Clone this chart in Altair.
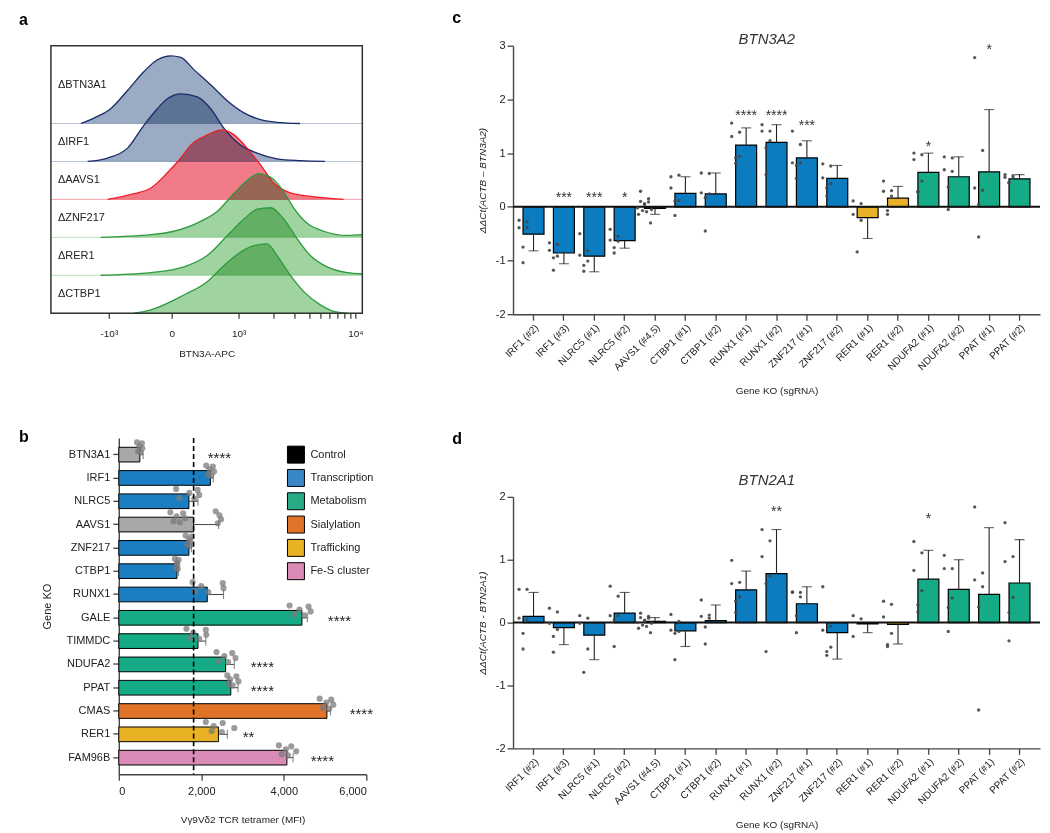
import altair as alt
import pandas as pd

FONT = "Liberation Sans"
INK = "#222222"

# ---------------- Panel a : flow histograms ----------------
HIST_SAMPLES = ["ΔBTN3A1", "ΔIRF1", "ΔAAVS1", "ΔZNF217", "ΔRER1", "ΔCTBP1"]
HIST_BASELINE = [5, 4, 3, 2, 1, 0]
A_YMAX = 7.05
A_XDOMAIN = [0, 100]
HIST_FILL = ["#9aabc3", "#9aabc3", "#f27b89", "#9fd4a0", "#9fd4a0", "#9fd4a0"]
HIST_LINE = ["#1b2a6b", "#1b2a6b", "#ee1c25", "#2e9a3e", "#2e9a3e", "#2e9a3e"]
HIST_TAIL = ["#b8c4d6", "#b8c4d6", "#f6a3ab", "#b9dfb9", "#b9dfb9", "#b9dfb9"]

BTN3A1_X = [9.6, 14.0, 19.2, 24.6, 29.9, 34.2, 38.5, 41.7, 45.9, 51.3, 56.6, 62.0, 67.3, 72.6, 80.0]
BTN3A1_H = [0.0, 0.15, 0.39, 0.87, 1.37, 1.68, 1.78, 1.74, 1.42, 1.02, 0.60, 0.28, 0.10, 0.03, 0.0]
IRF1_X = [11.8, 18.2, 24.6, 29.9, 34.2, 37.4, 41.7, 47.0, 51.3, 55.6, 60.9, 66.2, 72.6, 80.1, 88.0]
IRF1_H = [0.0, 0.09, 0.35, 0.96, 1.39, 1.65, 1.78, 1.70, 1.39, 0.87, 0.43, 0.22, 0.07, 0.02, 0.0]
AAVS1_X = [18.2, 26.7, 32.1, 37.4, 41.7, 44.9, 50.2, 55.0, 58.8, 63.0, 67.3, 71.6, 76.9, 85.5, 94.0]
AAVS1_H = [0.0, 0.15, 0.30, 0.70, 1.09, 1.43, 1.70, 1.83, 1.70, 1.35, 0.91, 0.43, 0.17, 0.06, 0.0]
ZNF217_X = [16.0, 32.1, 39.5, 48.1, 53.4, 58.8, 63.0, 66.8, 70.5, 74.8, 78.0, 82.3, 87.6, 95.1, 100.0]
ZNF217_H = [0.0, 0.07, 0.16, 0.42, 0.68, 1.16, 1.50, 1.68, 1.59, 1.20, 0.77, 0.37, 0.16, 0.05, 0.07]
RER1_X = [16.0, 32.1, 42.7, 50.2, 56.6, 62.0, 66.2, 70.5, 74.8, 79.1, 83.3, 88.7, 95.1, 100.0]
RER1_H = [0.0, 0.07, 0.22, 0.52, 1.04, 1.48, 1.74, 1.78, 1.48, 0.96, 0.52, 0.22, 0.07, 0.04]
CTBP1_X = [26.7, 32.1, 42.7, 50.2, 55.6, 60.9, 65.2, 69.4, 72.6, 76.9, 81.2, 86.5, 90.8, 95.1]
CTBP1_H = [0.0, 0.09, 0.48, 0.83, 1.26, 1.61, 1.78, 1.83, 1.52, 1.00, 0.57, 0.22, 0.05, 0.0]
HIST_XS = [BTN3A1_X, IRF1_X, AAVS1_X, ZNF217_X, RER1_X, CTBP1_X]
HIST_HS = [BTN3A1_H, IRF1_H, AAVS1_H, ZNF217_H, RER1_H, CTBP1_H]

A_TICK_VALUES = [18.6, 38.8, 60.3, 97.8]
A_TICK_LABELS = ["-10³", "0", "10³", "10⁴"]
A_MINOR_TICKS = [71.6, 78.2, 82.9, 86.5, 89.5, 92.0, 94.2, 96.1]

# ---------------- Panel b : tetramer MFI ----------------
B_GENES = ["BTN3A1", "IRF1", "NLRC5", "AAVS1", "ZNF217", "CTBP1", "RUNX1",
           "GALE", "TIMMDC", "NDUFA2", "PPAT", "CMAS", "RER1", "FAM96B"]
B_CATEGORY = ["Control", "Transcription", "Transcription", "Control", "Transcription",
              "Transcription", "Transcription", "Metabolism", "Metabolism", "Metabolism",
              "Metabolism", "Sialylation", "Trafficking", "Fe-S cluster"]
B_MEAN = [510, 2220, 1700, 1814, 1700, 1410, 2145, 4440, 1920, 2590, 2715, 5045, 2415, 4075]
B_ERR = [590, 2290, 1920, 2420, 1760, 1450, 2540, 4570, 2110, 2800, 2890, 5130, 2630, 4225]
B_POINTS = [
    [440, 470, 500, 520, 560, 570],
    [2120, 2170, 2200, 2240, 2280, 2310],
    [1390, 1470, 1710, 1830, 1910, 1950],
    [1250, 1330, 1400, 1480, 1560, 1610, 2350, 2400, 2440, 2480],
    [1620, 1660, 1700, 1730, 1760, 1740],
    [1360, 1390, 1410, 1430, 1450, 1420],
    [1790, 1850, 2000, 2170, 2520, 2540],
    [4140, 4250, 4380, 4500, 4600, 4650],
    [1640, 1720, 1800, 1950, 2110, 2120],
    [2370, 2420, 2560, 2650, 2750, 2830],
    [2630, 2660, 2700, 2760, 2850, 2900],
    [4870, 4950, 5030, 5100, 5150, 5200],
    [2110, 2250, 2300, 2500, 2520, 2800],
    [3880, 3950, 4050, 4100, 4180, 4300],
]
B_STARS = ["****", "", "", "", "", "", "", "****", "", "****", "****", "****", "**", "****"]
B_STAR_X = [2440, 0, 0, 0, 0, 0, 0, 5350, 0, 3480, 3480, 5880, 3145, 4935]
B_REFERENCE = "AAVS1"
LEGEND_CATS = ["Control", "Transcription", "Metabolism", "Sialylation", "Trafficking", "Fe-S cluster"]
BAR_COLORS = ["#a8a8a8", "#1b7ec2", "#14ab86", "#df7327", "#e9b224", "#d98bb5"]
LEGEND_COLORS = ["#000000", "#3a87c8", "#2aab86", "#df7327", "#e9b224", "#d98bb5"]

# ---------------- Panels c, d : qPCR ----------------
CD_LABELS = ["IRF1 (#2)", "IRF1 (#3)", "NLRC5 (#1)", "NLRC5 (#2)", "AAVS1 (#4,5)",
             "CTBP1 (#1)", "CTBP1 (#2)", "RUNX1 (#1)", "RUNX1 (#2)", "ZNF217 (#1)",
             "ZNF217 (#2)", "RER1 (#1)", "RER1 (#2)", "NDUFA2 (#1)", "NDUFA2 (#2)",
             "PPAT (#1)", "PPAT (#2)"]
CD_GROUP = ["Transcription"] * 11 + ["Trafficking"] * 2 + ["Metabolism"] * 4
CD_COLORS = ["#0c7cc0", "#e9b02a", "#14ab86"]
CD_GROUPS = ["Transcription", "Trafficking", "Metabolism"]

C_MEAN = [-0.51, -0.86, -0.92, -0.63, -0.03, 0.25, 0.24, 1.15, 1.20, 0.91, 0.53,
          -0.20, 0.16, 0.64, 0.56, 0.65, 0.52]
C_ERR = [-0.82, -1.06, -1.21, -0.77, -0.14, 0.56, 0.63, 1.47, 1.53, 1.23, 0.77,
         -0.59, 0.38, 1.00, 0.93, 1.81, 0.60]
C_POINTS = [
    [-0.25, -0.28, -0.39, -0.39, -0.75, -1.04],
    [-0.67, -0.70, -0.81, -0.92, -0.95, -1.18],
    [-0.50, -0.82, -0.90, -1.01, -1.09, -1.20],
    [-0.42, -0.55, -0.62, -0.64, -0.76, -0.86],
    [0.29, 0.15, 0.10, 0.09, 0.06, 0.04, -0.02, -0.05, -0.07, -0.09, -0.14, -0.30],
    [0.56, 0.59, 0.35, 0.12, 0.11, -0.16],
    [0.63, 0.62, 0.26, 0.24, 0.17, -0.45],
    [1.56, 1.39, 1.31, 0.94, 0.91, 0.81],
    [1.53, 1.41, 1.41, 1.23, 1.10, 0.60],
    [1.41, 1.16, 0.82, 0.82, 0.77, 0.53],
    [0.80, 0.76, 0.54, 0.43, 0.35, 0.20],
    [0.11, 0.06, -0.14, -0.25, -0.84],
    [0.48, 0.30, 0.29, 0.20, -0.07, -0.14],
    [1.00, 0.97, 0.88, 0.48, 0.28, 0.28],
    [0.93, 0.91, 0.69, 0.66, 0.37, -0.05],
    [2.78, 1.05, 0.35, 0.31, 0.04, -0.56],
    [0.60, 0.58, 0.55, 0.54, 0.45, 0.45],
]
C_STARS = ["", "***", "***", "*", "", "", "", "****", "****", "***", "", "", "", "*", "", "*", ""]
C_STAR_Y = [0, 0.24, 0.24, 0.24, 0, 0, 0, 1.76, 1.76, 1.57, 0, 0, 0, 1.19, 0, 3.0, 0]

D_MEAN = [0.10, -0.08, -0.20, 0.15, 0.02, -0.13, 0.03, 0.52, 0.78, 0.30, -0.16,
          -0.02, -0.03, 0.69, 0.53, 0.45, 0.63]
D_ERR = [0.48, -0.35, -0.59, 0.48, 0.08, -0.38, 0.28, 0.82, 1.48, 0.57, -0.58,
         -0.16, -0.34, 1.15, 1.00, 1.51, 1.32]
D_POINTS = [
    [0.53, 0.53, 0.07, 0.05, -0.17, -0.42],
    [0.23, 0.17, -0.01, -0.11, -0.22, -0.47],
    [0.11, 0.07, -0.01, -0.42, -0.79],
    [0.58, 0.42, 0.11, 0.11, 0.04, -0.38],
    [0.15, 0.10, 0.08, 0.07, 0.04, 0.02, 0.0, -0.01, -0.04, -0.06, -0.09, -0.16],
    [0.13, 0.02, -0.12, -0.14, -0.17, -0.59],
    [0.36, 0.12, 0.10, 0.07, -0.07, -0.34],
    [0.99, 0.64, 0.62, 0.41, 0.34, 0.16],
    [1.48, 1.30, 1.05, 0.74, 0.62, -0.46],
    [0.49, 0.48, 0.48, 0.41, 0.11, -0.16],
    [0.57, -0.06, -0.12, -0.39, -0.46, -0.52],
    [0.11, 0.06, -0.22],
    [0.34, 0.29, 0.09, -0.17, -0.35, -0.38],
    [1.29, 1.11, 0.83, 0.51, 0.28, 0.17],
    [1.07, 0.86, 0.86, 0.39, 0.24, -0.14],
    [1.84, 0.79, 0.68, 0.57, 0.25, -1.39],
    [1.59, 1.05, 0.97, 0.40, 0.16, -0.29],
]
D_STARS = ["", "", "", "", "", "", "", "", "**", "", "", "", "", "*", "", "", ""]
D_STAR_Y = [0, 0, 0, 0, 0, 0, 0, 0, 1.83, 0, 0, 0, 0, 1.71, 0, 0, 0]

# jitter patterns (pixels) for the replicate dots
JIT_B = [-5, 4, -1, 5, -4, 1, -6, 6, -2, 2]
JIT_CD = [-4, 4, -4, 4, 0, 0, -7, 7, -2, 2, -6, 6]


def letter(ch, dx, dy):
    return alt.Chart(pd.DataFrame({"t": [ch]})).mark_text(
        align="left", baseline="alphabetic", fontSize=16, fontWeight="bold",
        font=FONT, color="black").encode(x=alt.value(dx), y=alt.value(dy), text="t:N")


def free_text(txt, dx, dy, size=15, style="italic"):
    return alt.Chart(pd.DataFrame({"t": [txt]})).mark_text(
        align="left", baseline="alphabetic", fontSize=size, fontStyle=style,
        font=FONT, color="#333333").encode(x=alt.value(dx), y=alt.value(dy), text="t:N")


# ===== Panel a =====
hist_rows = []
for s, xs, hs, base in zip(HIST_SAMPLES, HIST_XS, HIST_HS, HIST_BASELINE):
    for x, h in zip(xs, hs):
        hist_rows.append({"sample": s, "x": x, "base": base, "top": base + h})
hist_df = pd.DataFrame(hist_rows)
tops = [A_YMAX] + HIST_BASELINE[:-1]
lab_df = pd.DataFrame({"sample": HIST_SAMPLES, "base": HIST_BASELINE,
                       "mid": [(b + t) / 2 for b, t in zip(HIST_BASELINE, tops)],
                       "x0": A_XDOMAIN[0], "x1": A_XDOMAIN[1]})
frame_df = pd.DataFrame({"x0": [A_XDOMAIN[0]], "x1": [A_XDOMAIN[1]], "y0": [0], "y1": [A_YMAX]})

a_label_expr = ("{" + ",".join(f"'{v}':'{l}'" for v, l in zip(A_TICK_VALUES, A_TICK_LABELS))
                + "}[datum.value] || ''")
# the panel's plot area is shifted left of its own origin so that it can sit above panel b
xA_scale = alt.Scale(domain=A_XDOMAIN, range=[-68, 244], nice=False, zero=False)
xA_axis = alt.Axis(values=sorted(A_TICK_VALUES + A_MINOR_TICKS), labelExpr=a_label_expr,
                   title="BTN3A-APC", domain=False, tickSize=5, labelPadding=10,
                   titlePadding=10)
yA_scale = alt.Scale(domain=[0, A_YMAX], nice=False, zero=False)


def xA(field):
    return alt.X(field, scale=xA_scale, axis=xA_axis)


def yA(field):
    return alt.Y(field, scale=yA_scale, axis=None)


tails = alt.Chart(lab_df).mark_rule(strokeWidth=1).encode(
    x=xA("x0:Q"), x2="x1:Q", y=yA("base:Q"),
    color=alt.Color("sample:N", scale=alt.Scale(domain=HIST_SAMPLES, range=HIST_TAIL), legend=None))
areas = alt.Chart(hist_df).mark_area(interpolate="monotone", blend="multiply").encode(
    x=xA("x:Q"), y=yA("base:Q"), y2="top:Q",
    fill=alt.Fill("sample:N", scale=alt.Scale(domain=HIST_SAMPLES, range=HIST_FILL), legend=None))
lines = alt.Chart(hist_df).mark_line(interpolate="monotone", strokeWidth=1.3).encode(
    x=xA("x:Q"), y=yA("top:Q"),
    stroke=alt.Stroke("sample:N", scale=alt.Scale(domain=HIST_SAMPLES, range=HIST_LINE), legend=None))
frame = alt.Chart(frame_df).mark_rect(fillOpacity=0, stroke="#333333", strokeWidth=1.5).encode(
    x=xA("x0:Q"), x2="x1:Q", y=yA("y0:Q"), y2="y1:Q")
row_labels = alt.Chart(lab_df).mark_text(align="left", baseline="middle", fontSize=11,
                                         font=FONT, color=INK).encode(
    x=alt.value(-61), y=yA("mid:Q"), text="sample:N")

panel_a = alt.layer(tails, areas, lines, frame, row_labels, letter("a", -100, -21)).properties(
    width=244, height=268)

# ===== Panel b =====
b_df = pd.DataFrame({"gene": B_GENES, "category": B_CATEGORY, "mean": B_MEAN,
                     "err": B_ERR, "star": B_STARS, "star_x": B_STAR_X})
bp_rows = []
for g, pts in zip(B_GENES, B_POINTS):
    for i, v in enumerate(pts):
        bp_rows.append({"gene": g, "value": v, "jit": JIT_B[i % len(JIT_B)]})
bp_df = pd.DataFrame(bp_rows)
dash_df = pd.DataFrame({"v": [B_MEAN[B_GENES.index(B_REFERENCE)]]})
leg_df = pd.DataFrame({"gene": B_GENES[:len(LEGEND_CATS)], "category": LEGEND_CATS})

yB_scale = alt.Scale(paddingInner=0.37, paddingOuter=0.4)
yB_axis = alt.Axis(title="Gene KO", tickSize=6, titlePadding=13, labelPadding=3,
                   labelFontSize=11, titleFontSize=11)
yB = alt.Y("gene:N", sort=B_GENES, scale=yB_scale, axis=yB_axis)
xB_scale = alt.Scale(domain=[0, 6000], nice=False)
xB_axis = alt.Axis(values=[0, 2000, 4000, 6000], labelExpr="format(datum.value, ',')",
                   tickSize=6, title="Vγ9Vδ2 TCR tetramer (MFI)", labelPadding=5,
                   titlePadding=18, labelFontSize=11)


def xB(field):
    return alt.X(field, scale=xB_scale, axis=xB_axis)


bars_b = alt.Chart(b_df).mark_bar(stroke="black", strokeWidth=1).encode(
    y=yB, x=xB("mean:Q"),
    fill=alt.Fill("category:N", scale=alt.Scale(domain=LEGEND_CATS, range=BAR_COLORS), legend=None))
err_b = alt.Chart(b_df).mark_rule(color="#444444", strokeWidth=1).encode(
    y=yB, x=xB("mean:Q"), x2="err:Q")
cap_b = alt.Chart(b_df).mark_tick(orient="vertical", size=9, thickness=1, color="#444444").encode(
    y=yB, x=xB("err:Q"))
pts_b = alt.Chart(bp_df).mark_circle(size=38, color="#7a7a7a", opacity=0.75).encode(
    y=yB, x=xB("value:Q"), yOffset=alt.YOffset("jit:Q", scale=None))
dash_b = alt.Chart(dash_df).mark_rule(strokeDash=[5, 3], strokeWidth=1.6, color="black").encode(
    x=xB("v:Q"))
stars_b = alt.Chart(b_df).transform_filter("datum.star != ''").mark_text(
    fontSize=15, font=FONT, color=INK, baseline="alphabetic", dy=8).encode(
    y=yB, x=xB("star_x:Q"), text="star:N")
leg_sq = alt.Chart(leg_df).mark_square(size=289, opacity=1, stroke="black", strokeWidth=1).encode(
    y=yB, x=alt.value(177.5),
    color=alt.Color("category:N", scale=alt.Scale(domain=LEGEND_CATS, range=LEGEND_COLORS), legend=None))
leg_tx = alt.Chart(leg_df).mark_text(align="left", baseline="middle", fontSize=11, font=FONT,
                                     color=INK).encode(y=yB, x=alt.value(192), text="category:N")

panel_b = alt.layer(bars_b, err_b, cap_b, pts_b, dash_b, stars_b, leg_sq, leg_tx,
                    letter("b", -100, 4)).properties(width=248, height=337)


# ===== Panels c & d =====
def qpcr_panel(means, errs, points, stars, star_y, ydomain, yvalues, ytitle, gene_title,
               height, letter_ch, letter_dy, title_dy):
    df = pd.DataFrame({"label": CD_LABELS, "group": CD_GROUP, "mean": means, "err": errs,
                       "star": stars, "star_y": star_y})
    prow = []
    for lab, pts in zip(CD_LABELS, points):
        for i, v in enumerate(pts):
            prow.append({"label": lab, "value": v, "jit": JIT_CD[i % len(JIT_CD)]})
    pdf = pd.DataFrame(prow)
    ysc = alt.Scale(domain=ydomain, nice=False, zero=False)
    xsc = alt.Scale(paddingInner=0.31, paddingOuter=0.33)
    xax = alt.Axis(title="Gene KO (sgRNA)", labelAngle=-45, tickSize=6,
                   labelPadding=2, titlePadding=14)
    xE = alt.X("label:N", sort=CD_LABELS, scale=xsc, axis=xax)
    yax = alt.Axis(values=yvalues, labelExpr="'' + datum.value", title=ytitle,
                   titleFontStyle="italic", tickSize=6, titlePadding=8, labelFontSize=11)

    def yE(field):
        return alt.Y(field, scale=ysc, axis=yax)

    bars = alt.Chart(df).mark_bar(stroke="black", strokeWidth=1.2).encode(
        x=xE, y=yE("mean:Q"),
        fill=alt.Fill("group:N", scale=alt.Scale(domain=CD_GROUPS, range=CD_COLORS), legend=None))
    zero = alt.Chart(pd.DataFrame({"z": [0]})).mark_rule(color="#111111", strokeWidth=2).encode(
        y=yE("z:Q"))
    err = alt.Chart(df).mark_rule(color="#222222", strokeWidth=1.1).encode(
        x=xE, y=yE("mean:Q"), y2="err:Q")
    cap = alt.Chart(df).mark_tick(orient="horizontal", size=10, thickness=1.1, color="#222222").encode(
        x=xE, y=yE("err:Q"))
    pts = alt.Chart(pdf).mark_circle(size=11, color="#454545", opacity=0.9).encode(
        x=xE, y=yE("value:Q"), xOffset=alt.XOffset("jit:Q", scale=None))
    st = alt.Chart(df).transform_filter("datum.star != ''").mark_text(
        fontSize=14, font=FONT, color="#333333", baseline="alphabetic", dy=8).encode(
        x=xE, y=yE("star_y:Q"), text="star:N")
    return alt.layer(bars, zero, err, cap, pts, st, free_text(gene_title, 226, title_dy),
                     letter(letter_ch, -61, letter_dy)).properties(width=528, height=height)


panel_c = qpcr_panel(C_MEAN, C_ERR, C_POINTS, C_STARS, C_STAR_Y, [-2, 3], [-2, -1, 0, 1, 2, 3],
                     "ΔΔCt(ACTB – BTN3A2)", "BTN3A2", 269, "c", -23, -2)
panel_d = qpcr_panel(D_MEAN, D_ERR, D_POINTS, D_STARS, D_STAR_Y, [-2, 2], [-2, -1, 0, 1, 2],
                     "ΔΔCt(ACTB - BTN2A1)", "BTN2A1", 252, "d", -53, -12)

indep = dict(color="independent", fill="independent", stroke="independent")
left = alt.vconcat(panel_a, panel_b, spacing=69).resolve_scale(**indep)
right = alt.vconcat(panel_c, panel_d, spacing=33).resolve_scale(**indep)
chart = alt.hconcat(left, right, spacing=20).resolve_scale(**indep).properties(
    padding={"left": 10, "top": 0, "right": 0, "bottom": 0})
chart = chart.configure(font=FONT).configure_view(stroke="transparent").configure_axis(
    labelFont=FONT, titleFont=FONT, labelFontSize=10, titleFontSize=10,
    titleFontWeight="normal", labelColor=INK, titleColor=INK, grid=False,
    domainColor="#444444", domainWidth=1.4, tickColor="#444444", tickWidth=1.3)

chart.save("out.html", embed_options={"renderer": "svg", "actions": False})
